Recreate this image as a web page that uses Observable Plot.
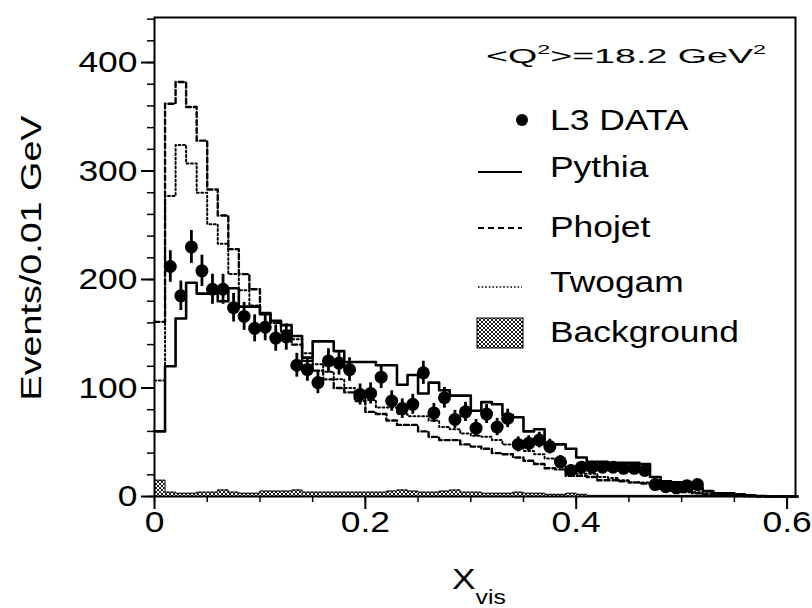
<!DOCTYPE html>
<html><head><meta charset="utf-8">
<script src="https://cdn.jsdelivr.net/npm/d3@7"></script>
<script src="https://cdn.jsdelivr.net/npm/@observablehq/plot@0.6"></script>
<style>
body{margin:0;background:#fff;}
#chart{position:relative;width:812px;height:608px;}
</style></head><body><div id="chart"></div>
<script>
// ---- data (bins of 0.01 in X_vis, starting at 0) ----
const binWidth = 0.01;
const dataValues = [212,185,230,208,191,191,174,166,155,156,146,147,121,117,105,125,123,117,94,95,
  110,88,81,85,114,77,91,71,78,63,76,64,72,48,49,52,46,32,24,27,27,27,27,26,26,24,11,9,8,10,11];
const dataFirstCenter = 0.015;
const pythia = [60,120,164,197,187,187,180,192,175,175,169,162,158,148,128,143,143,134,124,124,
  124,121,121,103,112,95,105,98,93,93,79,87,85,75,73,60,62,48,48,44,
  36,32,32,31,31,31,30,18,14,13,12,8,5,3,3,2,1,0.5,0,0,0];
const phojet = [161,362,382,359,328,283,259,228,205,191,168,160,152,140,125,116,108,100,96,88,
  78,76,70,66,66,60,55,52,52,48,46,44,40,39,36,33,30,26,25,19,
  19,18,15,15,14,13,12,10,7,5,4,3,2,1.5,1,0.5,0.3,0,0,0,0];
const twogam = [107,277,324,307,280,251,233,205,190,176,168,160,153,145,132,122,115,108,100,91,
  89,82,82,76,74,74,70,64,62,58,56,55,52,48,47,42,39,35,32,24,
  21,21,18,17,15,13,13,12,9,7,6,4,3,2,2,1,1,0.5,0,0,0];
const background = [15,4,3,3,4,4,6,4,3,3,5,5,5,6,4,4,4,4,4,4,
  4,4,5,6,5,4,4,5,6,4,4,3,3,3,4,3,3,2,2,3,
  2,1,1,1,1,1,1,1,1,1,1,1,1,1,1,1,0,0,0,0,0];
const yMajorTicks = [0,100,200,300,400];
const xMajorTicks = [0,0.2,0.4,0.6];
const legendLabels = ["L3 DATA","Pythia","Phojet","Twogam","Background"];
const annotation = {pre:"<Q", sup:"2", mid:">=18.2 GeV", sup2:"2"};

// ---- derived tables ----
const dataPts = dataValues.map((v,i)=>({x: dataFirstCenter + i*binWidth, y: v, e: Math.sqrt(v)}));
function stepTable(vals){
  const t = vals.map((v,i)=>({x: i*binWidth, y: v}));
  t.push({x: vals.length*binWidth, y: vals[vals.length-1]});
  return t;
}
const bgRects = background.map((v,i)=>({x1: i*binWidth, x2: (i+1)*binWidth, y: v}));
const yMinor = d3.range(0, 441, 20);
const xMinor = d3.range(0, 0.61, 0.05);

const FONT = "'Liberation Sans', Arial, Helvetica, sans-serif";

const svg = Plot.plot({
  width: 812, height: 608,
  marginLeft: 154, marginRight: 17, marginTop: 17, marginBottom: 112,
  x: {domain: [0, 0.608], label: null},
  y: {domain: [0, 441.5], label: null},
  style: {fontFamily: FONT, fontSize: "30px", color: "black", background: "white"},
  marks: [
    Plot.rectY(bgRects, {x1: "x1", x2: "x2", y: "y", fill: "url(#xhatch)"}),
    Plot.line(stepTable(background), {x: "x", y: "y", curve: "step-after", stroke: "black", strokeWidth: 1}),
    Plot.line(stepTable(twogam), {x: "x", y: "y", curve: "step-after", stroke: "black", strokeWidth: 2, strokeDasharray: "1.8,2.6"}),
    Plot.line(stepTable(phojet), {x: "x", y: "y", curve: "step-after", stroke: "black", strokeWidth: 2.4, strokeDasharray: "5,3"}),
    Plot.line(stepTable(pythia), {x: "x", y: "y", curve: "step-after", stroke: "black", strokeWidth: 2.6}),
    Plot.ruleX(dataPts, {x: "x", y1: d => d.y - d.e, y2: d => d.y + d.e, stroke: "black", strokeWidth: 2.8}),
    Plot.dot(dataPts, {x: "x", y: "y", r: 6.5, fill: "black"}),
    Plot.axisY({ticks: yMajorTicks, tickSize: 13, tickPadding: 4, strokeWidth: 2, fontSize: 30, label: null}),
    Plot.axisY({ticks: yMinor, tickSize: 7, strokeWidth: 1.5, tickFormat: () => "", label: null}),
    Plot.axisX({ticks: xMajorTicks, tickSize: 13, tickPadding: 1, strokeWidth: 2, fontSize: 30, tickFormat: d => d === 0 ? "0" : String(d), label: null}),
    Plot.axisX({ticks: xMinor, tickSize: 6, strokeWidth: 1.5, tickFormat: () => "", label: null}),
    Plot.frame({stroke: "black", strokeWidth: 2})
  ]
});
document.getElementById("chart").append(svg);

const s = d3.select(svg);
// hatch pattern
const defs = s.insert("defs", ":first-child");
const pat = defs.append("pattern").attr("id","xhatch").attr("patternUnits","userSpaceOnUse")
  .attr("width",4).attr("height",4);
pat.append("rect").attr("width",4).attr("height",4).attr("fill","white");
pat.append("path").attr("d","M0,0L4,4M4,0L0,4").attr("stroke","black").attr("stroke-width",0.9);

// axis titles
s.append("text").attr("transform","translate(41,258) rotate(-90)").attr("text-anchor","middle")
  .attr("font-family",FONT).attr("font-size",30).attr("data-len",285).text("Events/0.01 GeV");
const xt = s.append("text").attr("x",452).attr("y",589).attr("text-anchor","start").attr("font-family",FONT).attr("font-size",30);
xt.append("tspan").text("X");
xt.append("tspan").attr("dy",15).attr("font-size",21).text("vis");

// legend
const lg = s.append("g").attr("font-family",FONT).attr("font-size",30).attr("text-anchor","start");
const qt = lg.append("text").attr("x",486).attr("y",63).attr("font-size",21).attr("data-len",280);
qt.append("tspan").text(annotation.pre);
qt.append("tspan").attr("dy",-9).attr("font-size",13).text(annotation.sup);
qt.append("tspan").attr("dy",9).text(annotation.mid);
qt.append("tspan").attr("dy",-9).attr("font-size",13).text(annotation.sup2);

const rows = [120, 173, 229, 287, 331];
const baselines = [130, 177, 237, 292, 342];
lg.append("circle").attr("cx",522).attr("cy",rows[0]).attr("r",6).attr("fill","black");
lg.append("line").attr("x1",478).attr("x2",522).attr("y1",172).attr("y2",172).attr("stroke","black").attr("stroke-width",2);
lg.append("line").attr("x1",478).attr("x2",522).attr("y1",228).attr("y2",228).attr("stroke","black").attr("stroke-width",2).attr("stroke-dasharray","6,4");
lg.append("line").attr("x1",478).attr("x2",522).attr("y1",287).attr("y2",287).attr("stroke","black").attr("stroke-width",1.6).attr("stroke-dasharray","1.6,2");
lg.append("rect").attr("x",477).attr("y",318).attr("width",46).attr("height",30).attr("fill","url(#xhatch)").attr("stroke","black").attr("stroke-width",1);
legendLabels.forEach((t,i)=>{
  lg.append("text").attr("x",550).attr("y",baselines[i]).attr("text-anchor","start").text(t);
});

// widen glyphs to match the reference's wide Helvetica rendering
const K = 1.18;
svg.querySelectorAll("text").forEach(el=>{
  if (!el.textContent) return;
  const fixed = el.getAttribute("data-len");
  const len = el.getComputedTextLength();
  if (!len) return;
  el.setAttribute("textLength", fixed ? fixed : (len*K).toFixed(1));
  el.setAttribute("lengthAdjust","spacingAndGlyphs");
});
</script></body></html>
